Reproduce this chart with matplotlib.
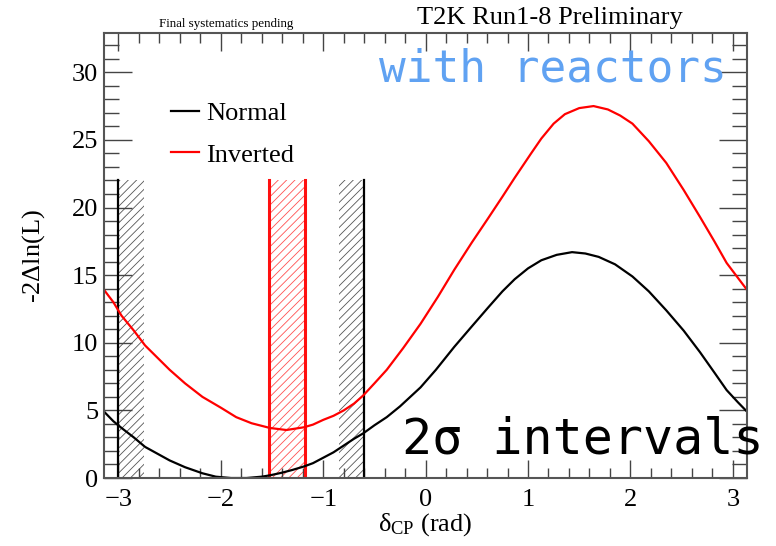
import numpy as np
import matplotlib
matplotlib.use("Agg")
from matplotlib import pyplot as plt
from matplotlib.ticker import MultipleLocator

plt.rcParams['font.family'] = ['Liberation Serif', 'DejaVu Serif']
plt.rcParams['mathtext.default'] = 'regular'
plt.rcParams['hatch.linewidth'] = 0.6

# -2 delta lnL profiles
dcp_normal = [-3.14, -3.05, -2.97, -2.85, -2.74, -2.62, -2.50, -2.35, -2.18, -2.05, -1.90,
              -1.75, -1.60, -1.52, -1.40, -1.30, -1.19, -1.10, -1.00, -0.90, -0.80, -0.70,
              -0.61, -0.50, -0.38, -0.25, -0.15, -0.05, 0.10, 0.28, 0.45, 0.61, 0.75, 0.87,
              1.00, 1.13, 1.28, 1.43, 1.56, 1.69, 1.85, 2.02, 2.18, 2.35, 2.52, 2.68, 2.82,
              2.94, 3.05, 3.14]
chi2_normal = [4.9, 4.2, 3.7, 3.0, 2.3, 1.8, 1.3, 0.8, 0.35, 0.1, 0.0,
               0.0, 0.1, 0.2, 0.4, 0.6, 0.85, 1.1, 1.5, 1.9, 2.4, 2.9,
               3.3, 3.9, 4.5, 5.3, 6.0, 6.7, 8.0, 9.7, 11.2, 12.6, 13.8, 14.7,
               15.5, 16.1, 16.5, 16.7, 16.6, 16.35, 15.8, 14.9, 13.8, 12.4, 10.9, 9.3, 7.8,
               6.5, 5.6, 4.9]

dcp_inverted = [-3.14, -3.05, -2.97, -2.85, -2.74, -2.62, -2.50, -2.35, -2.18, -2.00, -1.85,
                -1.70, -1.52, -1.36, -1.19, -1.10, -1.00, -0.90, -0.80, -0.70, -0.61, -0.50,
                -0.38, -0.22, -0.05, 0.12, 0.28, 0.45, 0.61, 0.75, 0.87, 1.03, 1.13, 1.25,
                1.36, 1.50, 1.64, 1.78, 1.90, 2.02, 2.18, 2.35, 2.52, 2.68, 2.82, 2.94,
                3.05, 3.14]
chi2_inverted = [13.9, 13.0, 12.0, 10.9, 9.8, 8.9, 8.0, 7.0, 6.0, 5.2, 4.5,
                 4.05, 3.7, 3.55, 3.75, 3.95, 4.3, 4.6, 5.0, 5.5, 6.1, 7.0,
                 8.0, 9.6, 11.4, 13.4, 15.4, 17.4, 19.2, 20.8, 22.2, 24.0, 25.1, 26.2,
                 26.9, 27.35, 27.5, 27.25, 26.8, 26.2, 24.9, 23.3, 21.3, 19.3, 17.5, 15.9,
                 14.8, 13.9]

# 2 sigma interval edges and hatched side bands
normal_edges = [-3.0, -0.60]
normal_hatch = [(-3.0, -2.75), (-0.85, -0.60)]
inverted_edges = [-1.53, -1.18]
inverted_hatch = [(-1.53, -1.18)]
band_top = 22

fig = plt.figure(figsize=(7.76, 5.46), dpi=100)
ax = fig.add_axes([0.134, 0.1245, 0.829, 0.815])

# bands
for lo, hi in normal_hatch:
    ax.fill_between([lo, hi], 0, band_top, facecolor='none', edgecolor='#555555',
                    hatch='////', linewidth=0)
for lo, hi in inverted_hatch:
    ax.fill_between([lo, hi], 0, band_top, facecolor='none', edgecolor='#ff5050',
                    hatch='////', linewidth=0)
for x in normal_edges:
    ax.plot([x, x], [0, band_top], color='black', lw=1.6)
for x in inverted_edges:
    ax.plot([x, x], [0, band_top], color='#ff1010', lw=2.2)

ax.plot(dcp_normal, chi2_normal, color='black', lw=1.6, label='Normal')
ax.plot(dcp_inverted, chi2_inverted, color='#ff0000', lw=1.6, label='Inverted')

ax.set_xlim(-np.pi, np.pi)
ax.set_ylim(0, 32.9)

ax.xaxis.set_major_locator(MultipleLocator(1))
ax.xaxis.set_minor_locator(MultipleLocator(0.2))
ax.yaxis.set_major_locator(MultipleLocator(5))
ax.yaxis.set_minor_locator(MultipleLocator(1))
ax.tick_params(which='both', direction='in', top=True, right=True, color='#444444', width=1.0)
ax.tick_params(axis='x', which='major', length=13, labelsize=19, pad=8)
ax.tick_params(axis='x', which='minor', length=7)
ax.tick_params(axis='y', which='major', length=20, labelsize=19, pad=4)
ax.tick_params(axis='y', which='minor', length=11)
for sp in ax.spines.values():
    sp.set_linewidth(1.5)
    sp.set_color('#555555')

ax.set_xlabel(r'$\delta_{CP}$ (rad)', fontsize=19, labelpad=0)
ax.set_ylabel(r'-2$\Delta$ln(L)', fontsize=19, labelpad=18)

ax.legend(loc='upper left', bbox_to_anchor=(0.067, 0.9), frameon=False, fontsize=19,
          handlelength=1.05, handletextpad=0.3, labelspacing=0.7)

fig.text(0.709, 0.967, 'T2K Run1-8 Preliminary', ha='center', va='center', fontsize=19)
fig.text(0.292, 0.956, 'Final systematics pending', ha='center', va='center', fontsize=9.4)
fig.text(0.712, 0.850, 'with reactors', ha='center', va='baseline', fontsize=32,
         family='DejaVu Sans Mono', color='#60a2f2')
fig.text(0.751, 0.170, '2σ intervals', ha='center', va='baseline', fontsize=36,
         family='DejaVu Sans Mono', color='black')

fig.savefig('out.png', dpi=100)
